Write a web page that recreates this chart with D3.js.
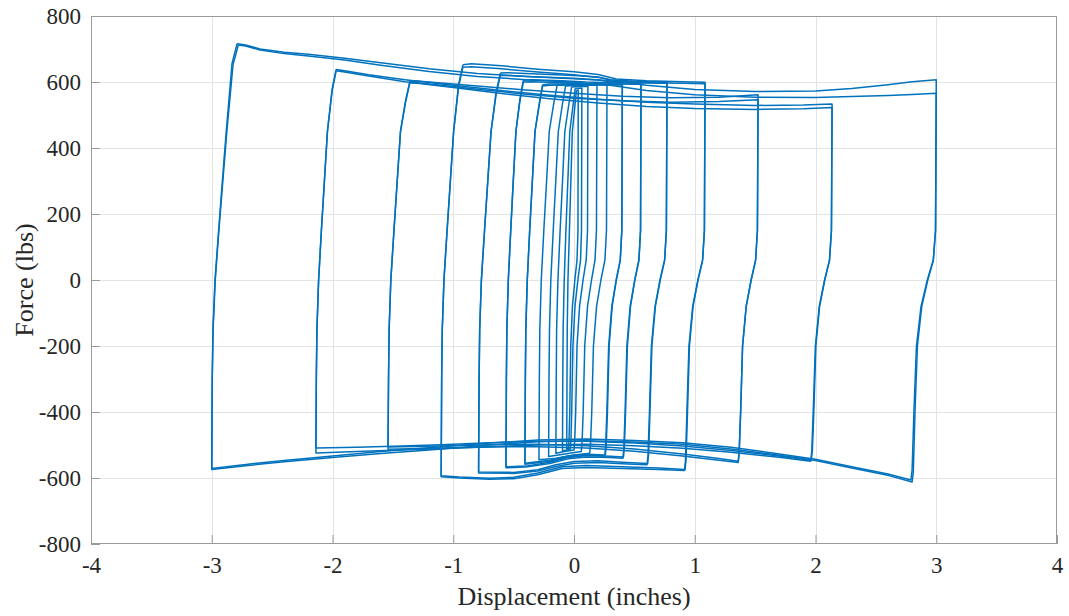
<!DOCTYPE html>
<html>
<head>
<meta charset="utf-8">
<script src="https://cdn.jsdelivr.net/npm/d3@7"></script>
<style>
  html, body { margin: 0; padding: 0; background: #fff; }
  svg { display: block; }
</style>
</head>
<body>
<svg id="chart" width="1069" height="616"></svg>
<script>
// Axis ticks
const xTicks = [-4, -3, -2, -1, 0, 1, 2, 3, 4];
const yTicks = [-800, -600, -400, -200, 0, 200, 400, 600, 800];

// Recorded force–displacement cycles, [displacement (in), force (lbs)]
// Each cycle: upper branch, unloading, lower branch, reloading.

// Amplitude 3.00 in
const cycle300a = [[-2.79,716],[-2.72,712],[-2.6,700],[-2.4,690],[-2.2,684],[-1.9,672],[-1.6,658],[-1.2,640],[-0.8,626],[-0.4,617],[0,611],[0.3,604],[0.6,590],[1.0,577],[1.5,571],[2.0,573],[2.3,580],[2.6,592],[2.8,601],[3.0,607],
  [3.0,592],[2.994,150],[2.976,60],[2.93,0],[2.88,-80],[2.844,-200],[2.824,-400],[2.81,-582],[2.80,-612],
  [2.6,-592],[2.3,-570],[2.0,-547],[1.7,-531],[1.3,-512],[0.9,-498],[0.5,-491],[0.1,-487],[-0.3,-490],[-0.7,-500],[-1.2,-515],[-1.6,-526],[-2.0,-538],[-2.4,-551],[-2.7,-562],[-3.0,-574],
  [-3.0,-559],[-2.996,-300],[-2.99,-150],[-2.973,0],[-2.943,150],[-2.912,300],[-2.88,450],[-2.832,656],[-2.79,716]];
const cycle300b = [[-2.78,712],[-2.72,709],[-2.6,697],[-2.4,686],[-2.2,679],[-1.9,667],[-1.6,651],[-1.2,632],[-0.8,617],[-0.4,607],[0,599],[0.3,590],[0.6,574],[1.0,561],[1.5,554],[2.0,553],[2.3,556],[2.6,559],[2.8,562],[3.0,566],
  [3.0,551],[2.994,150],[2.975,60],[2.926,0],[2.874,-80],[2.836,-200],[2.815,-400],[2.80,-576],[2.79,-606],
  [2.6,-588],[2.3,-566],[2.0,-543],[1.7,-527],[1.3,-507],[0.9,-493],[0.5,-486],[0.1,-482],[-0.3,-485],[-0.7,-494],[-1.2,-508],[-1.6,-520],[-2.0,-533],[-2.4,-547],[-2.7,-558],[-3.0,-571],
  [-3.0,-556],[-2.996,-300],[-2.989,-150],[-2.971,0],[-2.941,150],[-2.908,300],[-2.875,450],[-2.824,652],[-2.78,712]];

// Amplitude 2.14 in
const cycle214a = [[-1.97,638],[-1.9,634],[-1.7,622],[-1.4,607],[-1.0,590],[-0.6,574],[-0.2,560],[0.2,548],[0.6,539],[1.0,533],[1.5,529],[1.9,530],[2.137,533],
  [2.137,518],[2.132,150],[2.116,60],[2.077,0],[2.034,-80],[2.003,-200],[1.986,-400],[1.974,-516],[1.965,-546],
  [1.7,-533],[1.3,-517],[0.9,-503],[0.5,-494],[0.1,-489],[-0.3,-489],[-0.7,-493],[-1.1,-499],[-1.5,-504],[-1.8,-507],[-2.137,-509],
  [-2.137,-494],[-2.134,-300],[-2.129,-150],[-2.115,0],[-2.092,150],[-2.067,300],[-2.042,450],[-2.003,578],[-1.97,638]];
const cycle214b = [[-1.97,634],[-1.9,630],[-1.7,618],[-1.4,601],[-1.0,583],[-0.6,565],[-0.2,549],[0.2,536],[0.6,526],[1.0,520],[1.5,517],[1.9,519],[2.137,523],
  [2.137,508],[2.132,150],[2.116,60],[2.075,0],[2.031,-80],[1.999,-200],[1.981,-400],[1.969,-519],[1.96,-549],
  [1.7,-537],[1.3,-522],[0.9,-510],[0.5,-502],[0.1,-498],[-0.3,-500],[-0.7,-505],[-1.1,-511],[-1.5,-516],[-1.8,-520],[-2.137,-524],
  [-2.137,-509],[-2.134,-300],[-2.129,-150],[-2.115,0],[-2.092,150],[-2.067,300],[-2.042,450],[-2.003,574],[-1.97,634]];

// Amplitude 1.53 in
const cycle153a = [[-1.36,601],[-1.3,603],[-1.1,597],[-0.8,588],[-0.4,576],[0,566],[0.4,557],[0.8,552],[1.2,554],[1.524,561],
  [1.524,546],[1.519,150],[1.504,60],[1.467,0],[1.426,-80],[1.396,-200],[1.38,-400],[1.368,-519],[1.36,-549],
  [1.2,-541],[0.9,-527],[0.5,-512],[0.1,-502],[-0.3,-498],[-0.7,-499],[-1.1,-503],[-1.54,-506],
  [-1.54,-491],[-1.536,-300],[-1.531,-150],[-1.517,0],[-1.491,150],[-1.464,300],[-1.437,450],[-1.396,541],[-1.36,601]];
const cycle153b = [[-1.36,597],[-1.3,598],[-1.1,590],[-0.8,578],[-0.4,563],[0,551],[0.4,543],[0.8,539],[1.2,541],[1.524,546],
  [1.524,531],[1.519,150],[1.504,60],[1.467,0],[1.426,-80],[1.396,-200],[1.38,-400],[1.368,-523],[1.36,-553],
  [1.2,-546],[0.9,-533],[0.5,-519],[0.1,-509],[-0.3,-505],[-0.7,-506],[-1.1,-509],[-1.54,-513],
  [-1.54,-498],[-1.536,-300],[-1.531,-150],[-1.517,0],[-1.491,150],[-1.464,300],[-1.437,450],[-1.396,537],[-1.36,597]];

// Amplitude 1.09 in
const cycle109a = [[-0.92,652],[-0.85,655],[-0.6,649],[-0.3,639],[0,631],[0.2,623],[0.35,609],[0.6,604],[0.9,601],[1.085,599],
  [1.085,584],[1.08,150],[1.065,60],[1.027,0],[0.986,-80],[0.956,-200],[0.94,-400],[0.928,-544],[0.92,-574],
  [0.7,-570],[0.4,-566],[0.1,-562],[-0.1,-566],[-0.3,-585],[-0.5,-598],[-0.7,-601],[-0.95,-597],[-1.10,-593],
  [-1.10,-578],[-1.096,-300],[-1.091,-150],[-1.077,0],[-1.051,150],[-1.024,300],[-0.997,450],[-0.956,592],[-0.92,652]];
const cycle109b = [[-0.92,645],[-0.85,646],[-0.6,640],[-0.3,630],[0,622],[0.2,614],[0.35,603],[0.6,598],[0.9,596],[1.085,595],
  [1.085,580],[1.08,150],[1.065,60],[1.026,0],[0.983,-80],[0.952,-200],[0.935,-400],[0.923,-547],[0.915,-577],
  [0.7,-574],[0.4,-571],[0.1,-568],[-0.1,-571],[-0.3,-590],[-0.5,-602],[-0.7,-604],[-0.95,-600],[-1.10,-596],
  [-1.10,-581],[-1.096,-300],[-1.091,-150],[-1.077,0],[-1.051,150],[-1.024,300],[-0.997,450],[-0.956,585],[-0.92,645]];

// Amplitude 0.78 in
const cycle078a = [[-0.61,627],[-0.55,628],[-0.3,624],[0,620],[0.2,615],[0.3,607],[0.5,602],[0.77,599],
  [0.77,584],[0.765,150],[0.751,60],[0.714,0],[0.674,-80],[0.645,-200],[0.629,-400],[0.618,-526],[0.61,-556],
  [0.4,-552],[0.2,-548],[0,-550],[-0.15,-560],[-0.3,-575],[-0.5,-583],[-0.79,-582],
  [-0.79,-567],[-0.786,-300],[-0.781,-150],[-0.767,0],[-0.741,150],[-0.714,300],[-0.687,450],[-0.646,567],[-0.61,627]];
const cycle078b = [[-0.61,620],[-0.55,620],[-0.3,615],[0,610],[0.2,606],[0.3,601],[0.5,598],[0.77,596],
  [0.77,581],[0.765,150],[0.75,60],[0.712,0],[0.671,-80],[0.641,-200],[0.625,-400],[0.613,-530],[0.605,-560],
  [0.4,-557],[0.2,-553],[0,-555],[-0.15,-565],[-0.3,-579],[-0.5,-586],[-0.79,-585],
  [-0.79,-570],[-0.786,-300],[-0.781,-150],[-0.767,0],[-0.741,150],[-0.714,300],[-0.687,450],[-0.646,560],[-0.61,620]];

// Amplitude 0.56 in
const cycle056a = [[-0.42,605],[-0.35,607],[-0.1,604],[0.1,600],[0.3,598],[0.555,596],
  [0.555,581],[0.551,150],[0.538,60],[0.504,0],[0.468,-80],[0.442,-200],[0.427,-400],[0.417,-506],[0.41,-536],
  [0.3,-534],[0.1,-532],[-0.05,-538],[-0.2,-552],[-0.4,-564],[-0.563,-566],
  [-0.563,-551],[-0.56,-300],[-0.556,-150],[-0.544,0],[-0.524,150],[-0.503,300],[-0.481,450],[-0.449,545],[-0.42,605]];
const cycle056b = [[-0.42,600],[-0.35,601],[-0.1,598],[0.1,595],[0.3,594],[0.555,593],
  [0.555,578],[0.551,150],[0.537,60],[0.503,0],[0.465,-80],[0.438,-200],[0.423,-400],[0.413,-510],[0.405,-540],
  [0.3,-538],[0.1,-536],[-0.05,-542],[-0.2,-556],[-0.4,-567],[-0.563,-569],
  [-0.563,-554],[-0.56,-300],[-0.556,-150],[-0.544,0],[-0.524,150],[-0.503,300],[-0.481,450],[-0.449,540],[-0.42,600]];

// Amplitude 0.40 in
const cycle040a = [[-0.26,592],[-0.2,594],[0,595],[0.2,594],[0.40,594],
  [0.40,579],[0.396,150],[0.383,60],[0.351,0],[0.316,-80],[0.291,-200],[0.277,-400],[0.267,-500],[0.26,-530],
  [0.1,-528],[-0.05,-533],[-0.2,-546],[-0.406,-555],
  [-0.406,-540],[-0.403,-300],[-0.399,-150],[-0.387,0],[-0.367,150],[-0.345,300],[-0.323,450],[-0.289,532],[-0.26,592]];
const cycle040b = [[-0.26,588],[-0.2,590],[0,591],[0.2,591],[0.40,591],
  [0.40,576],[0.396,150],[0.383,60],[0.349,0],[0.313,-80],[0.287,-200],[0.272,-400],[0.262,-503],[0.255,-533],
  [0.1,-531],[-0.05,-536],[-0.2,-549],[-0.406,-558],
  [-0.406,-543],[-0.403,-300],[-0.399,-150],[-0.387,0],[-0.367,150],[-0.345,300],[-0.323,450],[-0.289,528],[-0.26,588]];

// Small amplitudes, 0.28 in down to 0.05 in
const cycle028 = [[-0.14,590],[0,592],[0.15,592],[0.273,592],
  [0.273,577],[0.269,150],[0.256,60],[0.223,0],[0.187,-80],[0.161,-200],[0.147,-400],[0.137,-495],[0.13,-525],
  [0,-530],[-0.15,-540],[-0.29,-545],
  [-0.29,-530],[-0.287,-300],[-0.283,-150],[-0.271,0],[-0.25,150],[-0.227,300],[-0.205,450],[-0.17,530],[-0.14,590]];
const cycle020 = [[-0.07,588],[0.05,590],[0.19,590],
  [0.19,575],[0.186,150],[0.174,60],[0.145,0],[0.112,-80],[0.089,-200],[0.076,-400],[0.067,-490],[0.06,-520],
  [-0.05,-526],[-0.21,-535],
  [-0.21,-520],[-0.207,-300],[-0.203,-150],[-0.192,0],[-0.172,150],[-0.151,300],[-0.13,450],[-0.098,528],[-0.07,588]];
const cycle014 = [[-0.02,585],[0.05,586],[0.115,587],
  [0.115,572],[0.112,150],[0.101,60],[0.075,0],[0.046,-80],[0.025,-200],[0.014,-400],[0.006,-485],[0.0,-515],
  [-0.08,-520],[-0.15,-525],
  [-0.15,-510],[-0.147,-300],[-0.144,-150],[-0.133,0],[-0.115,150],[-0.095,300],[-0.076,450],[-0.046,525],[-0.02,585]];
const cycle009 = [[0.01,580],[0.04,581],[0.065,582],
  [0.065,567],[0.062,150],[0.054,60],[0.032,0],[0.008,-80],[-0.009,-200],[-0.019,-400],[-0.025,-482],[-0.03,-512],
  [-0.06,-515],[-0.095,-518],
  [-0.095,-503],[-0.093,-300],[-0.09,-150],[-0.081,0],[-0.067,150],[-0.051,300],[-0.035,450],[-0.011,520],[0.01,580]];
const cycle005 = [[0.02,575],[0.035,576],
  [0.035,561],[0.033,150],[0.025,60],[0.007,0],[-0.013,-80],[-0.027,-200],[-0.035,-400],[-0.041,-480],[-0.045,-510],
  [-0.06,-512],
  [-0.06,-497],[-0.058,-300],[-0.056,-150],[-0.05,0],[-0.038,150],[-0.026,300],[-0.014,450],[0.004,515],[0.02,575]];

const cycles = [cycle005, cycle009, cycle014, cycle020, cycle028,
  cycle040a, cycle040b, cycle056a, cycle056b, cycle078a, cycle078b,
  cycle109a, cycle109b, cycle153a, cycle153b, cycle214a, cycle214b,
  cycle300a, cycle300b];

// Layout
const W = 1069, H = 616;
const margin = { left: 91, right: 12, top: 16, bottom: 72 };
const serif = "'Liberation Serif', 'Times New Roman', serif";
const textColor = "#262626";
const svg = d3.select("#chart");

const x = d3.scaleLinear().domain([-4, 4]).range([margin.left, W - margin.right]);
const y = d3.scaleLinear().domain([-800, 800]).range([H - margin.bottom, margin.top]);

const plotW = W - margin.left - margin.right;
const plotH = H - margin.top - margin.bottom;

// Grid
const grid = svg.append("g").attr("stroke", "#e3e3e3").attr("stroke-width", 1);
grid.selectAll("line.vx").data(xTicks.slice(1, -1)).join("line")
  .attr("x1", d => Math.round(x(d)) + 0.5).attr("x2", d => Math.round(x(d)) + 0.5)
  .attr("y1", margin.top).attr("y2", H - margin.bottom);
grid.selectAll("line.hy").data(yTicks.slice(1, -1)).join("line")
  .attr("y1", d => Math.round(y(d)) + 0.5).attr("y2", d => Math.round(y(d)) + 0.5)
  .attr("x1", margin.left).attr("x2", W - margin.right);

// Hysteresis loops
svg.append("clipPath").attr("id", "plotClip")
  .append("rect").attr("x", margin.left).attr("y", margin.top).attr("width", plotW).attr("height", plotH);

const line = d3.line().x(d => x(d[0])).y(d => y(d[1])).curve(d3.curveLinear);
svg.append("g").attr("clip-path", "url(#plotClip)")
  .selectAll("path").data(cycles).join("path")
  .attr("d", line)
  .attr("fill", "none")
  .attr("stroke", "#0072BD")
  .attr("stroke-width", 1.5)
  .attr("stroke-linejoin", "round");

// Axes (ticks point inward, labels outside)
const fontTick = 23;
const xAxis = d3.axisBottom(x).tickValues(xTicks).tickFormat(d => String(d))
  .tickSizeInner(-9).tickSizeOuter(0).tickPadding(13);
const gx = svg.append("g").attr("transform", `translate(0,${H - margin.bottom})`).call(xAxis);
gx.select(".domain").remove();
gx.selectAll(".tick line").attr("stroke", "#9a9a9a");
gx.selectAll(".tick text").attr("font-size", fontTick).attr("font-family", serif).attr("fill", textColor);

const yAxis = d3.axisLeft(y).tickValues(yTicks).tickFormat(d => String(d))
  .tickSizeInner(-9).tickSizeOuter(0).tickPadding(10);
const gy = svg.append("g").attr("transform", `translate(${margin.left},0)`).call(yAxis);
gy.select(".domain").remove();
gy.selectAll(".tick line").attr("stroke", "#9a9a9a");
gy.selectAll(".tick text").attr("font-size", fontTick).attr("font-family", serif).attr("fill", textColor);

// Box
svg.append("rect")
  .attr("x", margin.left + 0.5).attr("y", margin.top + 0.5)
  .attr("width", plotW - 1).attr("height", plotH - 1)
  .attr("fill", "none").attr("stroke", "#9a9a9a").attr("stroke-width", 1);

// Axis titles
svg.append("text")
  .attr("x", (margin.left + W - margin.right) / 2).attr("y", 605)
  .attr("text-anchor", "middle")
  .attr("font-family", serif)
  .attr("font-size", 26).attr("fill", textColor)
  .text("Displacement (inches)");

svg.append("text")
  .attr("transform", `translate(33,${(margin.top + H - margin.bottom) / 2}) rotate(-90)`)
  .attr("text-anchor", "middle")
  .attr("font-family", serif)
  .attr("font-size", 26).attr("fill", textColor)
  .text("Force (lbs)");
</script>
</body>
</html>
